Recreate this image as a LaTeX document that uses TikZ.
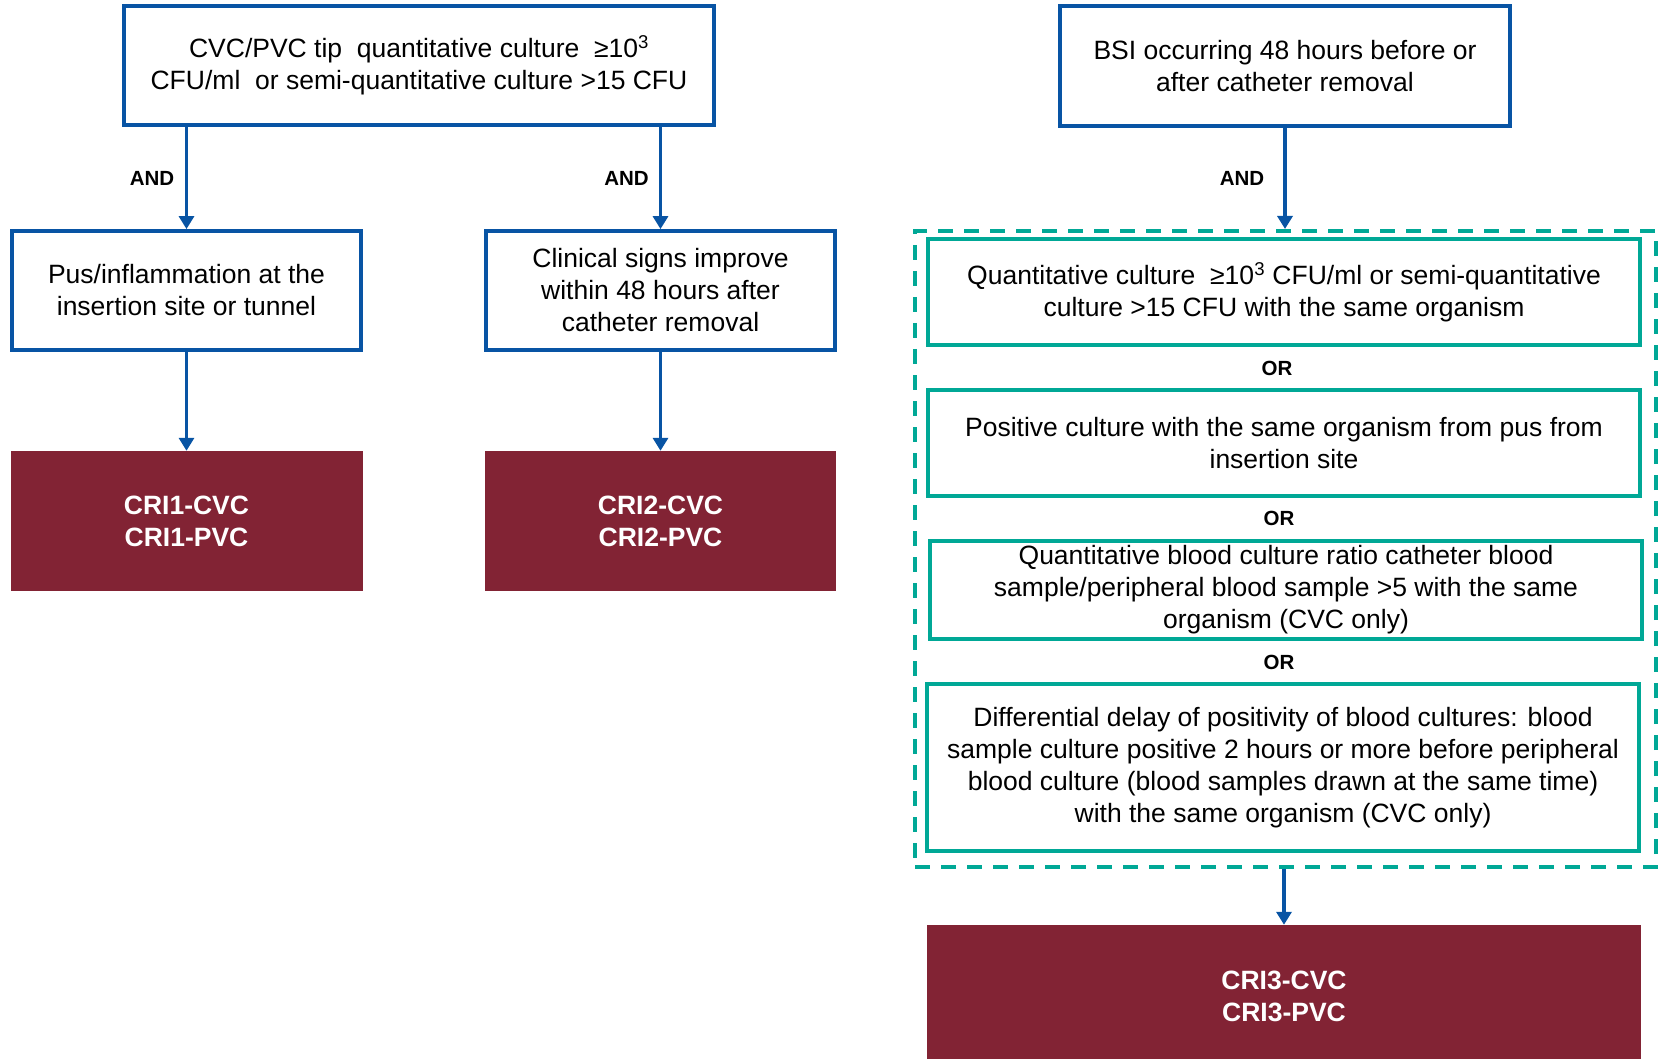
\documentclass[tikz,border=0pt]{standalone}
\usepackage{fontspec}
\setmainfont{Liberation Sans}
\usetikzlibrary{arrows.meta}
\definecolor{cblue}{RGB}{8,84,164}
\definecolor{cteal}{RGB}{0,168,150}
\definecolor{cmaroon}{RGB}{130,35,52}
\begin{document}
\begin{tikzpicture}[x=1pt,y=-1pt,
  bluebox/.style={draw=cblue, line width=3.8pt, fill=white, align=center, inner sep=0pt,
    font=\fontsize{26.5}{32}\selectfont},
  tealbox/.style={draw=cteal, line width=4pt, fill=white, align=center, inner sep=0pt,
    minimum width=712pt, font=\fontsize{26.5}{32}\selectfont},
  resbox/.style={fill=cmaroon, text=white, align=center, inner sep=0pt,
    font=\fontsize{26.5}{32}\selectfont\bfseries},
  grpbox/.style={draw=cteal, line width=4pt, dash pattern=on 15pt off 11pt, inner sep=0pt},
  lbl/.style={font=\fontsize{20.5}{24}\selectfont\bfseries, inner sep=0pt},
  conn/.style={draw=cblue, line width=3.8pt, -{Triangle[width=15pt,length=13pt]}}
]
\useasboundingbox (0,0) rectangle (1658,1059);

% left part
\node[bluebox, minimum width=590pt, minimum height=119pt] (A) at (419,65.5)
  {CVC/PVC tip\ \ quantitative culture\ \ ≥10\textsuperscript{3}\\CFU/ml\ \ or semi-quantitative culture >15 CFU};
\node[bluebox, minimum width=349pt, minimum height=119pt] (B1) at (186.5,290.5)
  {Pus/inflammation at the\\insertion site or tunnel};
\node[bluebox, minimum width=349pt, minimum height=119pt] (B2) at (660.5,290.5)
  {Clinical signs improve\\within 48 hours after\\catheter removal};
\node[resbox, minimum width=352pt, minimum height=140pt] (C1) at (186.5,521) {CRI1-CVC\\CRI1-PVC};
\node[resbox, minimum width=351pt, minimum height=140pt] (C2) at (660.5,521) {CRI2-CVC\\CRI2-PVC};

\node[lbl] (and1) at (152,178) {AND};
\node[lbl] (and2) at (626.5,178) {AND};

\draw[conn] (A.south -| B1.north) -- (B1.north);
\draw[conn] (A.south -| B2.north) -- (B2.north);
\draw[conn] (B1.south) -- (B1.south |- C1.north);
\draw[conn] (B2.south) -- (B2.south |- C2.north);

% right part
\node[bluebox, minimum width=450pt, minimum height=120pt] (D) at (1285,66)
  {BSI occurring 48 hours before or\\after catheter removal};
\node[grpbox, minimum width=741pt, minimum height=636pt] (G) at (1285.5,549) {};
\node[tealbox, minimum height=106pt] (E1) at (1284,292)
  {Quantitative culture\ \ ≥10\textsuperscript{3} CFU/ml or semi-quantitative\\culture >15 CFU with the same organism};
\node[tealbox, minimum height=106pt] (E2) at (1284,443)
  {Positive culture with the same organism from pus from\\insertion site};
\node[tealbox, minimum height=98pt] (E3) at (1286,590)
  {Quantitative blood culture ratio catheter blood\\sample/peripheral blood sample >5 with the same\\organism (CVC only)};
\node[tealbox, minimum height=167pt] (E4) at (1283,767.5)
  {Differential delay of positivity of blood cultures: blood\\sample culture positive 2 hours or more before peripheral\\blood culture (blood samples drawn at the same time)\\with the same organism (CVC only)};
\node[resbox, minimum width=714pt, minimum height=142pt] (F) at (1284,996) {CRI3-CVC\\CRI3-PVC};

\node[lbl] (and3) at (1242,178) {AND};
\node[lbl] (or1) at (1277,368) {OR};
\node[lbl] (or2) at (1279,518) {OR};
\node[lbl] (or3) at (1279,662) {OR};

\draw[conn] (D.south) -- (D.south |- G.north);
\draw[conn] (G.south -| F.north) -- (F.north);
\end{tikzpicture}
\end{document}
